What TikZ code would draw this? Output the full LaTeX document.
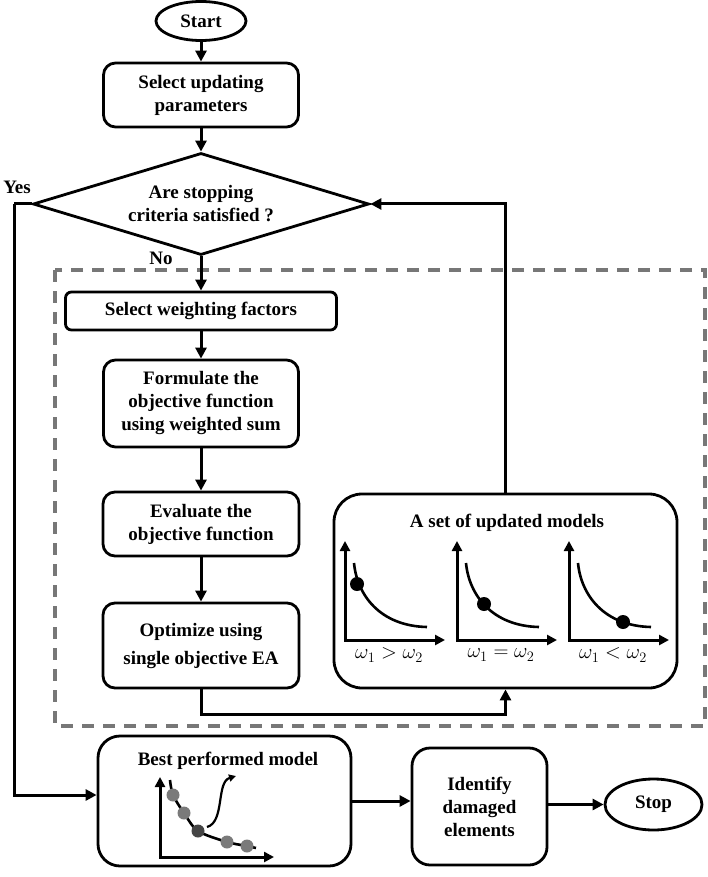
\documentclass[tikz,border=0pt]{standalone}
\usepackage{fontspec}
\setmainfont{Liberation Serif}
\usetikzlibrary{arrows.meta,shapes.geometric,calc}
\definecolor{dashgray}{HTML}{777777}
\definecolor{dotgray}{HTML}{7A7A7A}
\definecolor{dotdark}{HTML}{454545}
\begin{document}
\begin{tikzpicture}[x=1pt,y=-1pt,
  txt/.style={font=\fontsize{19}{23}\selectfont\bfseries, align=center},
  box/.style={draw, line width=2.8pt, rounded corners=#1, txt, inner sep=0pt},
  box/.default=12pt,
  term/.style={ellipse, draw, line width=2.8pt, txt, inner sep=0pt},
  arr/.style={line width=3pt, -{Triangle[length=11pt,width=11pt]}},
  axes/.style={line width=3pt, {Triangle[length=10pt,width=10pt]}-{Triangle[length=10pt,width=10pt]}},
  curve/.style={line width=2.6pt},
  dashbox/.style={draw=dashgray, line width=3.2pt, dash pattern=on 12pt off 9pt},
  wlabel/.style={font=\fontsize{20}{24}\selectfont}
]
\useasboundingbox (0,0) rectangle (708,877);

% dashed frame
\draw[dashbox] (55,270) rectangle (705,726);

% nodes
\node[term, minimum width=90pt, minimum height=39pt] (start) at (201,21) {Start};
\node[box, minimum width=195pt, minimum height=64pt] (sel) at (201,95) {Select updating\\parameters};
\node[diamond, draw, line width=2.8pt, txt, aspect=3.3, inner sep=0pt,
      minimum width=336pt, minimum height=102pt] (dia) at (201,204) {Are stopping\\criteria satisfied ?};
\node[txt] (yes) at (17,187) {Yes};
\node[txt] (no) at (161,258) {No};
\node[box=6pt, minimum width=271pt, minimum height=38pt] (wf) at (201,311) {Select weighting factors};
\node[box, minimum width=195pt, minimum height=87pt] (form) at (201,403.5) {Formulate the\\objective function\\using weighted sum};
\node[box, minimum width=196pt, minimum height=64pt] (eval) at (201,524) {Evaluate the\\objective function};
\node[box, minimum width=196pt, minimum height=85pt] (opt) at (201,645.5) {Optimize using\\[5pt]single objective EA};
\node[box=28pt, minimum width=343pt, minimum height=194pt] (upd) at (505.5,591) {};
\node[txt] (updt) at (507,523) {A set of updated models};
\node[box=22pt, minimum width=253pt, minimum height=130pt] (best) at (224.5,801) {};
\node[txt] (bestt) at (228,761) {Best performed model};
\node[box=18pt, minimum width=135pt, minimum height=117pt] (ident) at (479.5,806.5) {Identify\\damaged\\elements};
\node[term, minimum width=97pt, minimum height=51pt] (stop) at (653.5,804.5) {Stop};

% plots inside "A set of updated models"
\begin{scope}[shift={(345,640)}]
  \draw[axes] (0,-99) -- (0,0) -- (100,0);
  \draw[curve] (9,-77) .. controls (12,-45) and (35,-14) .. (82,-13);
  \fill (12,-56) circle (7pt);
  \node[wlabel] (l1) at (44,15) {$\omega_1 > \omega_2$};
\end{scope}
\begin{scope}[shift={(457,640)}]
  \draw[axes] (0,-99) -- (0,0) -- (100,0);
  \draw[curve] (9,-77) .. controls (12,-45) and (35,-14) .. (82,-13);
  \fill (27,-36) circle (7pt);
  \node[wlabel] (l2) at (44,15) {$\omega_1 = \omega_2$};
\end{scope}
\begin{scope}[shift={(569,640)}]
  \draw[axes] (0,-99) -- (0,0) -- (100,0);
  \draw[curve] (9,-77) .. controls (12,-45) and (35,-14) .. (82,-13);
  \fill (54,-18) circle (7pt);
  \node[wlabel] (l3) at (44,15) {$\omega_1 < \omega_2$};
\end{scope}

% plot inside "Best performed model"
\begin{scope}[shift={(160,857)}]
  \draw[axes] (0,-80) -- (0,0) -- (114,0);
  \draw[curve] plot[smooth] coordinates {(10,-77) (13,-62) (24,-44) (38,-26) (67,-15) (87,-11) (96,-9)};
  \fill[dotgray] (13,-62) circle (6.5pt);
  \fill[dotgray] (24,-44) circle (6.5pt);
  \fill[dotdark] (38,-26) circle (6.5pt);
  \fill[dotgray] (67,-15) circle (6.5pt);
  \fill[dotgray] (87,-11) circle (6.5pt);
  \draw[line width=2.2pt, -{Triangle[length=7pt,width=7pt]}] (47,-30) .. controls (65,-35) and (56,-75) .. (76,-81);
\end{scope}

% connectors
\coordinate (ybend) at (14,204);
\draw[arr] (start) -- (sel);
\draw[arr] (sel) -- (dia);
\draw[arr] (dia) -- (wf);
\draw[arr] (wf) -- (form);
\draw[arr] (form) -- (eval);
\draw[arr] (eval) -- (opt);
\draw[line width=3pt] (dia.west) -- (ybend);
\draw[arr] (ybend) |- ($(best.west)+(0,-6)$);
\draw[arr] (opt.south) -- ++(0,25) -| (upd.south);
\draw[arr] (upd.north) |- (dia.east);
\draw[arr] (best.east) -- (best.east -| ident.west);
\draw[arr] (ident.east |- stop) -- (stop.west);
\end{tikzpicture}
\end{document}
